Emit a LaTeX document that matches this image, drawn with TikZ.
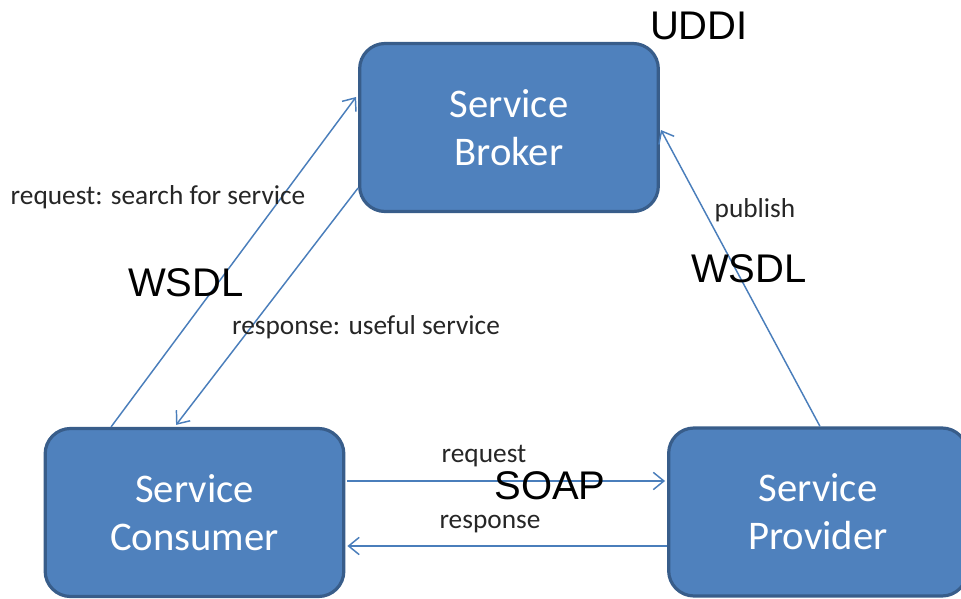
\documentclass[tikz,border=0pt]{standalone}
\usepackage{fontspec}
\setmainfont{Carlito}
\newfontfamily\arialfont{Liberation Sans}
\usetikzlibrary{arrows.meta,calc}
\definecolor{boxfill}{HTML}{4F81BD}
\definecolor{boxdraw}{HTML}{385D8A}
\definecolor{arrowcol}{HTML}{4A7EBB}
\begin{document}
\begin{tikzpicture}[x=0.75pt,y=-0.75pt,
  svcbox/.style={draw=boxdraw,fill=boxfill,line width=2.4pt,rounded corners=19pt,
    minimum width=224pt,minimum height=126pt,text=white,align=center,
    font=\fontsize{30.5}{36}\selectfont,inner sep=0pt},
  conn/.style={draw=arrowcol,line width=1.1pt,-{Straight Barb[length=8pt,width=13pt,line width=1.1pt]}},
  small/.style={font=\fontsize{20.5}{24}\selectfont,inner sep=0pt,text=black!85},
  big/.style={font=\arialfont\fontsize{30}{36}\selectfont,inner sep=0pt,text=black}]
\useasboundingbox (0,0) rectangle (961,599);
\node[svcbox] (broker) at (509,127.5) {Service\\Broker};
\node[svcbox] (cons) at (194.5,512.5) {Service\\Consumer};
\node[svcbox] (prov) at (818,512) {Service\\Provider};
% connectors
\draw[conn] ($(cons.north west)+(67.5,0)$) -- ($(broker.west)+(-2,-30.5)$);
\draw[conn] ($(broker.west)+(0,60.5)$) -- ($(cons.north west)+(132.5,-2)$);
\draw[conn] ($(prov.north)+(2,0)$) -- ($(broker.east)+(1,2.5)$);
\draw[conn] ($(cons.east)+(2,-31.5)$) -- ($(prov.west)+(-2,-31)$);
\draw[conn] ($(prov.west)+(0,34)$) -- ($(cons.east)+(2,33.5)$);
% labels
\node[big] (uddi) at (699,26) {UDDI};
\node[big] (wsdlL) at (186,283) {WSDL};
\node[big] (wsdlR) at (749,269) {WSDL};
\node[big] (soap) at (550,486) {SOAP};
\node[small] (reqsearch) at (158,197) {request: search for service};
\node[small] (respuseful) at (366,327) {response: useful service};
\node[small] (publish) at (755,210) {publish};
\node[small] (req) at (484,456) {request};
\node[small] (resp) at (490,524) {response};
\end{tikzpicture}
\end{document}
